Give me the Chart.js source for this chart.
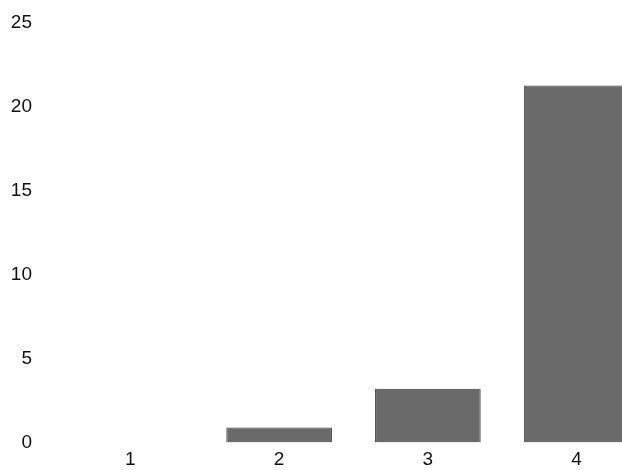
<!DOCTYPE html>
<html>
<head>
<meta charset="utf-8">
<script src="https://cdn.jsdelivr.net/npm/chart.js@4"></script>
<style>
  html, body { margin: 0; padding: 0; background: #fff; overflow: hidden; }
  /* taller canvas pulled up so the plot spans y 22..442 like the scan */
  canvas { display: block; margin-top: -13px; }
</style>
</head>
<body>
<canvas id="barChart" width="652" height="491"></canvas>
<script>
// data
const categories = ["1", "2", "3", "4"];
const counts = [0, 0.9, 3.2, 21.25];
const yTicks = [0, 5, 10, 15, 20, 25];

new Chart(document.getElementById("barChart"), {
  type: "bar",
  data: {
    labels: categories,
    datasets: [{
      data: counts,
      backgroundColor: "#6a6a6a",
      borderColor: "#3c3c3c",
      borderWidth: 1,
      categoryPercentage: 1,
      barPercentage: 0.71
    }]
  },
  options: {
    responsive: false,
    animation: false,
    devicePixelRatio: 1,
    layout: { autoPadding: false, padding: { top: 22, right: 1, left: 0, bottom: 0 } },
    plugins: { legend: { display: false }, tooltip: { enabled: false } },
    scales: {
      x: {
        grid: { display: false, drawTicks: false },
        border: { display: false },
        afterFit: axis => { axis.height = 28; },
        ticks: {
          color: "#111",
          font: { family: "Liberation Sans", size: 19 },
          padding: 6
        }
      },
      y: {
        min: 0,
        max: 25,
        grid: { display: false, drawTicks: false },
        border: { display: false },
        afterBuildTicks: axis => { axis.ticks = yTicks.map(v => ({ value: v })); },
        afterFit: axis => { axis.width = 56; },
        ticks: {
          color: "#111",
          font: { family: "Liberation Sans", size: 19 },
          padding: 24
        }
      }
    }
  }
});
</script>
</body>
</html>
